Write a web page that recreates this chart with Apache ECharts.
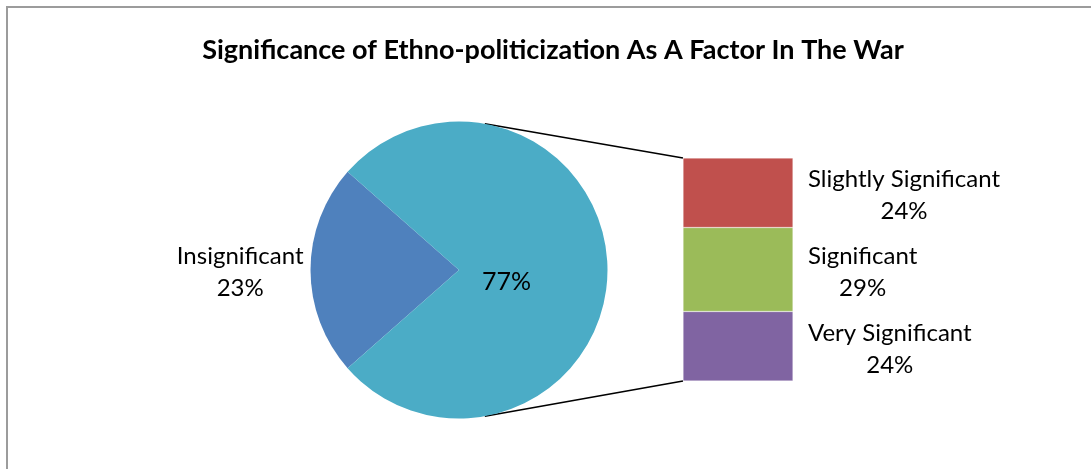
<!DOCTYPE html>
<html>
<head>
<meta charset="utf-8">
<script src="https://cdn.jsdelivr.net/npm/echarts@6/dist/echarts.min.js"></script>
<style>
html,body{margin:0;padding:0;background:#fff;}
#chart{width:1091px;height:469px;}
</style>
</head>
<body>
<div id="chart"></div>
<script>
// ---- data ----
var titleText = 'Significance of Ethno-politicization As A Factor In The War';
var pieCategories = ['Insignificant', 'Other'];
var pieValues = [23, 77];
var barCategories = ['Slightly Significant', 'Significant', 'Very Significant'];
var barValues = [24, 29, 24];

// ---- styles / layout ----
var FONT = 'Lato';
var pieColors = ['#4F81BD', '#4BACC6'];
var barColors = ['#C0504D', '#9BBB59', '#8064A2'];
var CX = 459, CY = 270, R = 148.5;
var G_LEFT = 683, G_TOP = 158, G_W = 110, G_H = 223;

var chart = echarts.init(document.getElementById('chart'), null, {renderer: 'canvas'});

var barTotal = barValues.reduce(function (a, b) { return a + b; }, 0);
var halfAngle = pieValues[0] / (pieValues[0] + pieValues[1]) * 360 / 2;

var labelRich = {
  c: {align: 'center', fontFamily: FONT, fontSize: 24, color: '#000', lineHeight: 32}
};

// stacked bar series: bottom-first
var barSeries = [];
for (var i = barCategories.length - 1; i >= 0; i--) {
  barSeries.push({
    type: 'bar',
    name: barCategories[i],
    stack: 'other',
    xAxisIndex: 0,
    yAxisIndex: 0,
    barWidth: '100%',
    data: [barValues[i]],
    itemStyle: {color: barColors[i], borderColor: 'rgba(255,255,255,0.6)', borderWidth: 0.5},
    label: {
      show: true,
      position: 'right',
      distance: 15,
      offset: [0, 3],
      formatter: (function (name, v) {
        return function () { return '{c|' + name + '}\n{c|' + v + '%}'; };
      })(barCategories[i], barValues[i]),
      rich: labelRich
    },
    emphasis: {disabled: true},
    animation: false
  });
}

var option = {
  animation: false,
  title: {
    text: titleText,
    left: 548,
    top: 32,
    textAlign: 'center',
    textStyle: {fontFamily: FONT, fontWeight: 'bold', fontSize: 27, color: '#000'}
  },
  grid: {left: G_LEFT, top: G_TOP, width: G_W, height: G_H},
  xAxis: {type: 'category', data: ['other'], show: false},
  yAxis: {type: 'value', min: 0, max: barTotal, show: false},
  series: [{
    type: 'pie',
    center: [CX, CY],
    radius: R,
    startAngle: 180 + halfAngle,
    clockwise: true,
    data: pieCategories.map(function (c, i) {
      return {name: c, value: pieValues[i], itemStyle: {color: pieColors[i]}};
    }),
    label: {
      show: true,
      position: 'inside',
      formatter: function (p) {
        if (p.dataIndex === 0) return '{c|' + p.name + '}\n{c|' + p.value + '%}';
        return '{d|' + p.value + '%}';
      },
      rich: {
        c: labelRich.c,
        d: {fontFamily: FONT, fontSize: 25, color: '#000'}
      }
    },
    labelLine: {show: false},
    labelLayout: function (p) {
      if (p.dataIndex === 0) {
        return {x: CX - R - 7, y: CY + 2, align: 'right', verticalAlign: 'middle'};
      }
      return {x: CX + R * 0.32, y: CY + 12, align: 'center', verticalAlign: 'middle'};
    },
    itemStyle: {borderWidth: 0},
    emphasis: {disabled: true},
    animation: false
  }].concat(barSeries),
  graphic: []
};
chart.setOption(option);

// connector lines from pie to bar, bar ends from the axis scale
var yTop = chart.convertToPixel({yAxisIndex: 0}, barTotal);
var yBot = chart.convertToPixel({yAxisIndex: 0}, 0);
var ang = 80 * Math.PI / 180;
var px = CX + R * Math.cos(ang);
var pyTop = CY - R * Math.sin(ang);
var pyBot = CY + R * Math.sin(ang);
chart.setOption({
  graphic: [
    {type: 'rect', shape: {x: 7, y: 7, width: 1200, height: 600},
     style: {fill: null, stroke: '#9c9c9c', lineWidth: 2}, silent: true, z: 100},
    {type: 'line', shape: {x1: px, y1: pyTop, x2: G_LEFT, y2: yTop},
     style: {stroke: '#000', lineWidth: 1.75}, silent: true},
    {type: 'line', shape: {x1: px, y1: pyBot, x2: G_LEFT, y2: yBot},
     style: {stroke: '#000', lineWidth: 1.75}, silent: true}
  ]
});
</script>
</body>
</html>
